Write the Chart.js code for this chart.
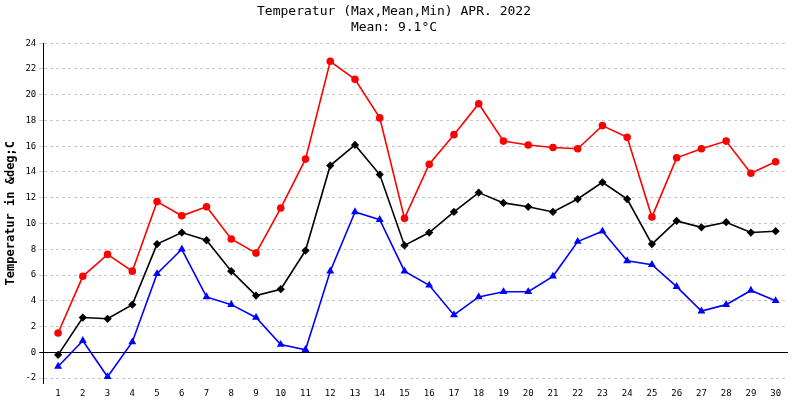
<!DOCTYPE html>
<html>
<head>
<meta charset="utf-8">
<script src="https://cdn.jsdelivr.net/npm/chart.js@4/dist/chart.umd.min.js"></script>
<style>
  html, body { margin: 0; background: #fff; }
  #wrap { width: 800px; height: 400px; }
</style>
</head>
<body>
<div id="wrap"><canvas id="c"></canvas></div>
<script>
const days = Array.from({ length: 30 }, (_, i) => i + 1);
const tMax = [1.5, 5.9, 7.6, 6.3, 11.7, 10.6, 11.3, 8.8, 7.7, 11.2, 15.0, 22.6, 21.2, 18.2, 10.4,
  14.6, 16.9, 19.3, 16.4, 16.1, 15.9, 15.8, 17.6, 16.7, 10.5, 15.1, 15.8, 16.4, 13.9, 14.8];
const tMean = [-0.2, 2.7, 2.6, 3.7, 8.4, 9.3, 8.7, 6.3, 4.4, 4.9, 7.9, 14.5, 16.1, 13.8, 8.3,
  9.3, 10.9, 12.4, 11.6, 11.3, 10.9, 11.9, 13.2, 11.9, 8.4, 10.2, 9.7, 10.1, 9.3, 9.4];
const tMin = [-1.1, 0.9, -1.9, 0.8, 6.1, 8.0, 4.3, 3.7, 2.7, 0.6, 0.2, 6.3, 10.9, 10.3, 6.3,
  5.2, 2.9, 4.3, 4.7, 4.7, 5.9, 8.6, 9.4, 7.1, 6.8, 5.1, 3.2, 3.7, 4.8, 4.0];

const font = { family: "DejaVu Sans Mono", size: 9 };

function series(values, color, style) {
  return {
    data: values.map((v, i) => ({ x: days[i], y: v })),
    borderColor: color,
    backgroundColor: color,
    borderWidth: 1.6,
    pointStyle: style,
    pointRadius: 3,
    tension: 0,
  };
}

new Chart(document.getElementById("c"), {
  type: "line",
  data: {
    datasets: [
      series(tMax, "#ff0000", "circle"),
      series(tMean, "#000000", "rectRot"),
      series(tMin, "#0000ff", "triangle"),
    ],
  },
  options: {
    responsive: true,
    maintainAspectRatio: false,
    animation: false,
    layout: { padding: { right: 12, bottom: 0 } },
    plugins: {
      legend: { display: false },
      title: {
        display: true,
        text: ["Temperatur (Max,Mean,Min) APR. 2022", "Mean: 9.1°C"],
        color: "#000",
        font: { family: "DejaVu Sans Mono", size: 13, weight: "normal" },
        padding: { top: 4, bottom: 8 },
      },
    },
    scales: {
      x: {
        type: "linear",
        min: 0.4,
        max: 30.5,
        afterBuildTicks: (ax) => { ax.ticks = days.map((d) => ({ value: d })); },
        ticks: { color: "#000", font, autoSkip: false, maxRotation: 0, padding: 1 },
        grid: { display: false, drawTicks: true, tickLength: 4 },
        border: { display: false },
      },
      y: {
        min: -2.4,
        max: 24,
        afterBuildTicks: (ax) => {
          const t = [];
          for (let v = -2; v <= 24; v += 2) t.push({ value: v });
          ax.ticks = t;
        },
        title: { display: true, text: "Temperatur in &deg;C", color: "#000",
          font: { family: "DejaVu Sans Mono", size: 12, weight: "bold" } },
        ticks: { color: "#000", font },
        grid: {
          color: (ctx) => (ctx.tick && ctx.tick.value === 0 ? "#000" : "#c8c8c8"),
          lineWidth: 1,
          tickLength: 4,
        },
        border: {
          color: "#000",
          dash: (ctx) => (ctx.tick && ctx.tick.value === 0 ? [] : [3, 3]),
        },
      },
    },
  },
});
</script>
</body>
</html>
